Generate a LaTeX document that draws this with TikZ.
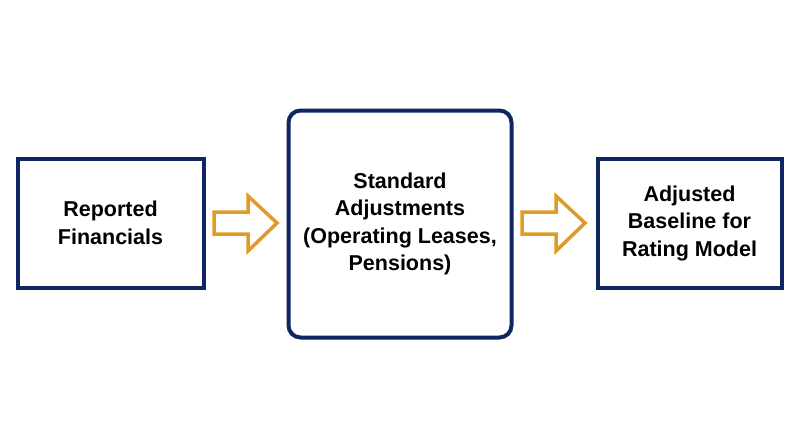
\documentclass[tikz,border=0pt]{standalone}
\usepackage{fontspec}
\setmainfont{Liberation Sans}
\definecolor{navy}{HTML}{0F2663}
\definecolor{gold}{HTML}{DF9A28}
\begin{document}
\begin{tikzpicture}[x=1pt,y=-1pt,
  box/.style={draw=navy,line width=4pt,fill=white,align=center,font=\fontsize{21.5}{27.5}\selectfont\bfseries,inner sep=0pt},
  arr/.style={draw=gold,line width=3.5pt,line join=miter,fill=white}]
\useasboundingbox (0,0) rectangle (800,447);
\node[box,minimum width=186pt,minimum height=129pt] (a) at (110.5,223) {Reported\\Financials};
\node[box,rounded corners=12pt,minimum width=223pt,minimum height=227pt] (b) at (400,224) {Standard\\Adjustments\\(Operating Leases,\\Pensions)};
\node[box,minimum width=184pt,minimum height=129pt] (c) at (689.5,223) {Adjusted\\Baseline for\\Rating Model};
\foreach \x in {214,522}{
  \draw[arr] (\x,212) -- (\x+34,212) -- (\x+34,196) -- (\x+63,223) -- (\x+34,251) -- (\x+34,234) -- (\x,234) -- cycle;
}
\end{tikzpicture}
\end{document}
